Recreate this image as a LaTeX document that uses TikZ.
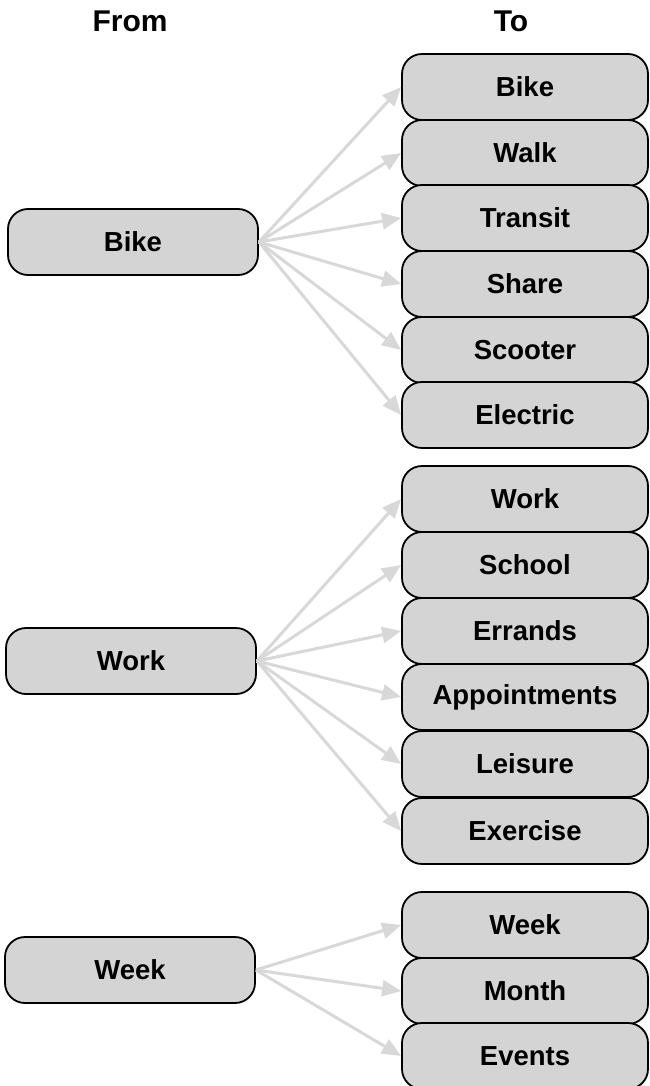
\documentclass[tikz,border=0pt]{standalone}
\usepackage{fontspec}
\setmainfont{Liberation Sans}
\usetikzlibrary{arrows.meta}
\definecolor{boxgray}{HTML}{D4D4D4}
\definecolor{linkgray}{HTML}{D8D8D8}

\tikzset{
    box/.style={draw, line width=1.8pt, fill=boxgray, rounded corners=20pt,
        minimum height=66pt, inner sep=0pt, font=\fontsize{27.5}{32}\selectfont\bfseries},
    frombox/.style={box, minimum width=250pt},
    tobox/.style={box, minimum width=246pt},
    link/.style={draw=linkgray, line width=3pt, -{Triangle[length=19pt,width=16pt]}},
    head/.style={font=\fontsize{30}{34}\selectfont\bfseries}
}

\begin{document}
\begin{tikzpicture}[x=1pt, y=-1pt]

    \useasboundingbox (0,0) rectangle (649,1086);

    \node (hfrom) [head] at (130,21) {From};
    \node (hto) [head] at (511,21) {To};

    % from column
    \node (fbike) [frombox] at (133,242) {Bike};
    \node (fwork) [frombox] at (131,661) {Work};
    \node (fweek) [frombox] at (130,970) {Week};

    % to column, first group
    \foreach \t/\y [count=\i] in {Bike/87, Walk/153, Transit/218, Share/284, Scooter/350, Electric/415}
    {
        \node (ta\i) [tobox] at (525,\y) {\t};
        \draw [link] (fbike.east) -- (ta\i.west);
    }

    % second group
    \foreach \t/\y [count=\i] in {Work/499, School/565, Errands/631, Appointments/697, Leisure/764, Exercise/831}
    {
        \node (tb\i) [tobox] at (525,\y) {\t};
        \draw [link] (fwork.east) -- (tb\i.west);
    }

    % third group
    \foreach \t/\y [count=\i] in {Week/925, Month/991, Events/1056}
    {
        \node (tc\i) [tobox] at (525,\y) {\t};
        \draw [link] (fweek.east) -- (tc\i.west);
    }

\end{tikzpicture}
\end{document}
